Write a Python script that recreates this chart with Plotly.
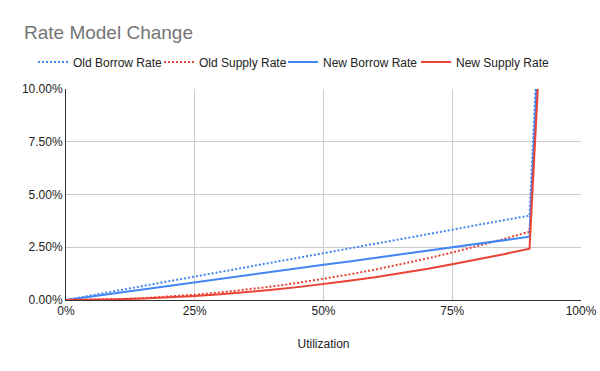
import plotly.graph_objects as go

utilization = [0.00, 0.05, 0.10, 0.15, 0.20, 0.25, 0.30, 0.35, 0.40, 0.45,
               0.50, 0.55, 0.60, 0.65, 0.70, 0.75, 0.80, 0.85, 0.90, 1.00]

# rates in percent
old_borrow = [0.00, 0.22, 0.44, 0.67, 0.89, 1.11, 1.33, 1.56, 1.78, 2.00,
              2.22, 2.44, 2.67, 2.89, 3.11, 3.33, 3.56, 3.78, 4.00, 55.0]
old_supply = [0.00, 0.01, 0.04, 0.09, 0.16, 0.25, 0.36, 0.49, 0.64, 0.81,
              1.00, 1.21, 1.44, 1.69, 1.96, 2.25, 2.56, 2.89, 3.24, 49.5]
new_borrow = [0.00, 0.17, 0.33, 0.50, 0.67, 0.83, 1.00, 1.17, 1.33, 1.50,
              1.67, 1.83, 2.00, 2.17, 2.33, 2.50, 2.67, 2.83, 3.00, 55.0]
new_supply = [0.00, 0.01, 0.03, 0.07, 0.12, 0.19, 0.27, 0.37, 0.48, 0.61,
              0.75, 0.91, 1.08, 1.27, 1.47, 1.69, 1.92, 2.17, 2.43, 49.5]

x_ticks = [0, 0.25, 0.5, 0.75, 1.0]
y_ticks = [0, 0.025, 0.05, 0.075, 0.10]

BLUE = "#4285F4"
RED = "#EA4335"

series = [
    ("Old Borrow Rate", old_borrow, BLUE, "2px,2px"),
    ("Old Supply Rate", old_supply, RED, "2px,2px"),
    ("New Borrow Rate", new_borrow, BLUE, "solid"),
    ("New Supply Rate", new_supply, RED, "solid"),
]
legend_ids = ["legend", "legend2", "legend3", "legend4"]
legend_text_x = [73, 199, 323, 456]  # pixel x where each legend label starts

FONT = "Liberation Sans, Arial, sans-serif"

fig = go.Figure()
for (name, vals, color, dash), lid in zip(series, legend_ids):
    fig.add_trace(go.Scatter(
        x=utilization, y=[v / 100 for v in vals], name=name, mode="lines",
        line=dict(color=color, width=2, dash=dash), legend=lid,
    ))

legends = {}
for lid, tx in zip(legend_ids, legend_text_x):
    legends[lid] = dict(orientation="h", x=(tx - 40) / 600, xref="container",
                        xanchor="left", y=1 - 62 / 371, yref="container",
                        yanchor="middle", itemwidth=30,
                        bgcolor="rgba(0,0,0,0)", borderwidth=0,
                        font=dict(family=FONT, size=12, color="#222222"))

fig.update_layout(
    width=600, height=371,
    margin=dict(l=66, r=19, t=89, b=71, autoexpand=False),
    paper_bgcolor="white", plot_bgcolor="white",
    font=dict(family=FONT, size=12, color="#222222"),
    title=dict(text="Rate Model Change", x=24 / 600, xref="container", xanchor="left",
               y=1 - 32 / 371, yref="container", yanchor="middle",
               font=dict(family=FONT, size=19, color="#757575")),
    showlegend=True,
    **legends,
)
fig.update_xaxes(range=[0, 1], tickvals=x_ticks, tickformat=".0%",
                 showgrid=True, gridcolor="#CCCCCC", gridwidth=1,
                 showline=True, linecolor="#333333", linewidth=1,
                 zeroline=False, ticks="", tickfont=dict(size=12, color="#222222"),
                 title=dict(text="Utilization", standoff=22,
                            font=dict(size=12, color="#222222")))
fig.update_yaxes(range=[0, 0.10], tickvals=y_ticks, tickformat=".2%",
                 showgrid=True, gridcolor="#CCCCCC", gridwidth=1,
                 showline=True, linecolor="#333333", linewidth=1,
                 zeroline=False, ticks="", tickfont=dict(size=12, color="#222222"))

fig.write_html("out.html", config={"displayModeBar": False},
               post_script="document.body.style.margin='0';document.body.style.overflow='hidden';")
